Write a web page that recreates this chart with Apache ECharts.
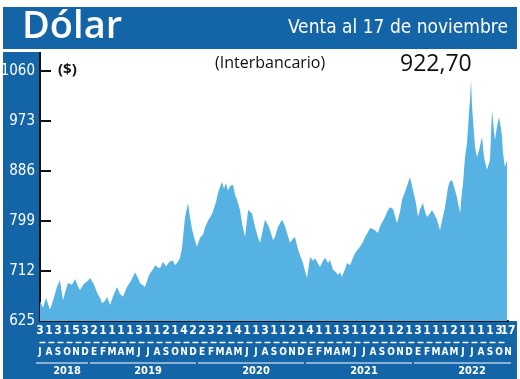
<!DOCTYPE html>
<html>
<head>
<meta charset="utf-8">
<script src="https://cdn.jsdelivr.net/npm/echarts@6.0.0/dist/echarts.min.js"></script>
<style>
html,body{margin:0;padding:0;background:#fff;}
#main{width:520px;height:379px;}
</style>
</head>
<body>
<div id="main"></div>
<script>
// tiempo: meses desde julio 2018 ; valores: dolar observado ($)
var tiempo = [0,0.34,0.68,1.13,1.47,1.93,2.26,2.60,2.94,3.17,
    3.62,3.96,4.30,4.53,4.98,5.44,5.66,6.12,6.46,6.80,
    7.02,7.36,7.59,7.93,8.27,8.72,9.06,9.40,9.85,10.31,
    10.76,11.10,11.33,11.89,12.23,12.46,12.80,13.02,13.36,13.59,
    13.93,14.27,14.72,15.06,15.29,15.63,15.86,16.08,16.42,16.76,
    16.99,17.21,17.55,17.78,18.12,18.46,18.69,19.03,19.37,19.59,
    19.93,20.16,20.39,20.61,20.84,21.06,21.29,21.52,21.86,22.08,
    22.31,22.65,22.88,23.22,23.44,23.56,23.78,24.01,24.35,24.69,
    24.92,25.26,25.48,25.82,26.05,26.39,26.61,26.95,27.41,27.75,
    27.97,28.31,28.65,28.88,29.22,29.56,29.78,30.01,30.24,30.58,
    30.92,31.14,31.48,31.71,32.05,32.28,32.62,32.84,33.18,33.52,
    33.75,33.98,34.20,34.54,34.77,35.11,35.45,35.67,36.01,36.24,
    36.58,36.81,37.15,37.37,37.71,37.94,38.28,38.51,38.73,39.07,
    39.41,39.64,39.98,40.20,40.43,40.77,41.00,41.34,41.68,41.90,
    42.13,42.24,42.58,42.81,43.04,43.37,43.60,43.83,44.17,44.39,
    44.73,44.96,45.30,45.53,45.87,46.21,46.43,46.66,47.00,47.22,
    47.34,47.57,47.79,47.91,48.13,48.36,48.58,48.69,48.81,48.92,
    49.04,49.26,49.49,49.72,50.06,50.28,50.62,50.96,51.19,51.41,
    51.53,51.75,51.98,52.21,52.32,52.43,52.66,52.89];
var valores = [660,648,665,645,660,685,696,661,680,691,
    688,698,685,679,690,695,700,688,674,665,
    656,660,667,653,668,684,672,667,684,695,
    710,700,691,684,700,708,715,722,718,717,
    728,720,729,730,722,728,735,752,805,830,
    805,785,765,754,770,775,788,800,808,816,
    832,848,858,867,855,865,852,860,862,845,
    836,818,795,771,800,818,820,812,789,770,
    761,785,801,792,783,766,771,789,801,790,
    778,761,768,771,749,735,726,712,700,736,
    730,734,725,719,730,735,726,731,714,710,
    705,710,702,715,726,722,735,743,750,754,
    763,771,780,787,785,783,778,790,792,806,
    818,823,820,818,795,815,836,850,865,876,
    860,853,830,806,820,830,815,806,812,818,
    808,801,783,800,823,858,868,870,853,840,
    830,813,850,865,910,935,987,1010,1044,1000,
    975,928,910,922,945,910,888,905,992,955,
    940,963,980,960,945,917,893,905];

var yTicks = [625,712,799,886,973,1060];
// primer dia habil de cada mes (el ultimo es el 17 de noviembre)
var diasMes = ['3','1','3','1','5','3',
    '2','1','1','1','1','3','1','1','2','1','4','2',
    '2','3','2','1','4','1','1','3','1','1','2','1',
    '4','1','1','1','3','1','1','2','1','1','2','1',
    '3','1','1','1','2','1','1','1','1','3','17'];
var letrasMes = ['J','A','S','O','N','D',
    'E','F','M','A','M','J','J','A','S','O','N','D',
    'E','F','M','A','M','J','J','A','S','O','N','D',
    'E','F','M','A','M','J','J','A','S','O','N','D',
    'E','F','M','A','M','J','J','A','S','O','N'];
var anios = ['2018','2019','2020','2021','2022'];
var posAnio = [3,12,24,36,48];
var gruposAnio = [[0,5],[6,17],[18,29],[30,41],[42,52]];

var azul = '#1465a8';
var celeste = '#56b2e2';
var narrow = '"Liberation Sans Narrow","DejaVu Sans Condensed",sans-serif';

var etiquetasAnio = letrasMes.map(function () { return ''; });
for (var i = 0; i < anios.length; i++) {
    etiquetasAnio[posAnio[i]] = anios[i];
}
var serie = [];
for (var i = 0; i < tiempo.length; i++) {
    serie.push([tiempo[i], valores[i]]);
}

var chart = echarts.init(document.getElementById('main'));
var option = {
    animation: false,
    backgroundColor: '#fff',
    grid: {left: 40, right: 12, top: 71, bottom: 58, containLabel: false, outerBoundsMode: 'none'},
    xAxis: [
        {type: 'value', min: 0, max: 53, show: false},
        {
            type: 'category', data: diasMes, boundaryGap: false, position: 'bottom',
            axisLine: {lineStyle: {color: '#111', width: 2}},
            axisTick: {show: false},
            axisLabel: {interval: 0, color: '#fff', fontSize: 12, fontFamily: narrow, fontWeight: 'bold', margin: 4}
        },
        {
            type: 'category', data: letrasMes, boundaryGap: false, position: 'bottom', offset: 21,
            axisLine: {lineStyle: {color: '#fff', width: 1.3, type: [5, 4]}},
            axisTick: {show: false},
            axisLabel: {interval: 0, color: '#fff', fontSize: 10, fontFamily: narrow, fontWeight: 'bold', margin: 5}
        },
        {
            type: 'category', data: etiquetasAnio, boundaryGap: false, position: 'bottom', offset: 41,
            axisLine: {show: false},
            axisTick: {show: false},
            axisLabel: {interval: 0, color: '#fff', fontSize: 11, fontFamily: narrow, fontWeight: 'bold', margin: 4}
        }
    ],
    yAxis: {
        type: 'value', min: 625, max: 1060,
        axisLine: {show: true, lineStyle: {color: '#111', width: 2}},
        axisTick: {show: true, inside: true, length: 11, customValues: yTicks, lineStyle: {color: '#111', width: 2}},
        axisLabel: {
            customValues: yTicks, color: '#fff', fontSize: 15, fontFamily: narrow, margin: 5,
            formatter: function (v) { return String(v); }
        },
        splitLine: {show: false}
    },
    series: [{
        type: 'line', xAxisIndex: 0, data: serie, showSymbol: false,
        lineStyle: {width: 0},
        areaStyle: {color: celeste, opacity: 1, origin: 'start'}
    }],
    graphic: [
        {type: 'rect', z: -10, shape: {x: 3, y: 7, width: 514, height: 42}, style: {fill: azul}},
        {type: 'rect', z: -10, shape: {x: 3, y: 52, width: 37, height: 327}, style: {fill: azul}},
        {type: 'rect', z: -10, shape: {x: 3, y: 321, width: 514, height: 58}, style: {fill: azul}},
        {type: 'line', z: 5, shape: {x1: 40, y1: 52, x2: 40, y2: 72}, style: {stroke: '#111', lineWidth: 2}},
        {type: 'text', left: 22, top: 8, style: {text: 'Dólar', fill: '#fff', font: '600 38px "Open Sans"'}},
        {type: 'text', right: 12, top: 19, style: {text: 'Venta al 17 de noviembre', fill: '#fff', font: '19px ' + narrow}},
        {type: 'text', left: 58, top: 62, style: {text: '($)', fill: '#111', font: 'bold 15px "Open Sans"'}},
        {type: 'text', left: 215, top: 55, style: {text: '(Interbancario)', fill: '#111', font: '16px "Open Sans"'}},
        {type: 'text', left: 400, top: 53, style: {text: '922,70', fill: '#111', font: '23px "Open Sans"'}}
    ]
};
chart.setOption(option);

// subrayado de los meses de cada año
var lineas = [];
gruposAnio.forEach(function (g) {
    var x1 = chart.convertToPixel({xAxisIndex: 2}, g[0]);
    var x2 = chart.convertToPixel({xAxisIndex: 2}, g[1]);
    lineas.push({type: 'line', z: 5, shape: {x1: x1 - 4, y1: 363, x2: x2 + 3, y2: 363}, style: {stroke: '#fff', lineWidth: 1.2}});
});
chart.setOption({graphic: option.graphic.concat(lineas)});
</script>
</body>
</html>
